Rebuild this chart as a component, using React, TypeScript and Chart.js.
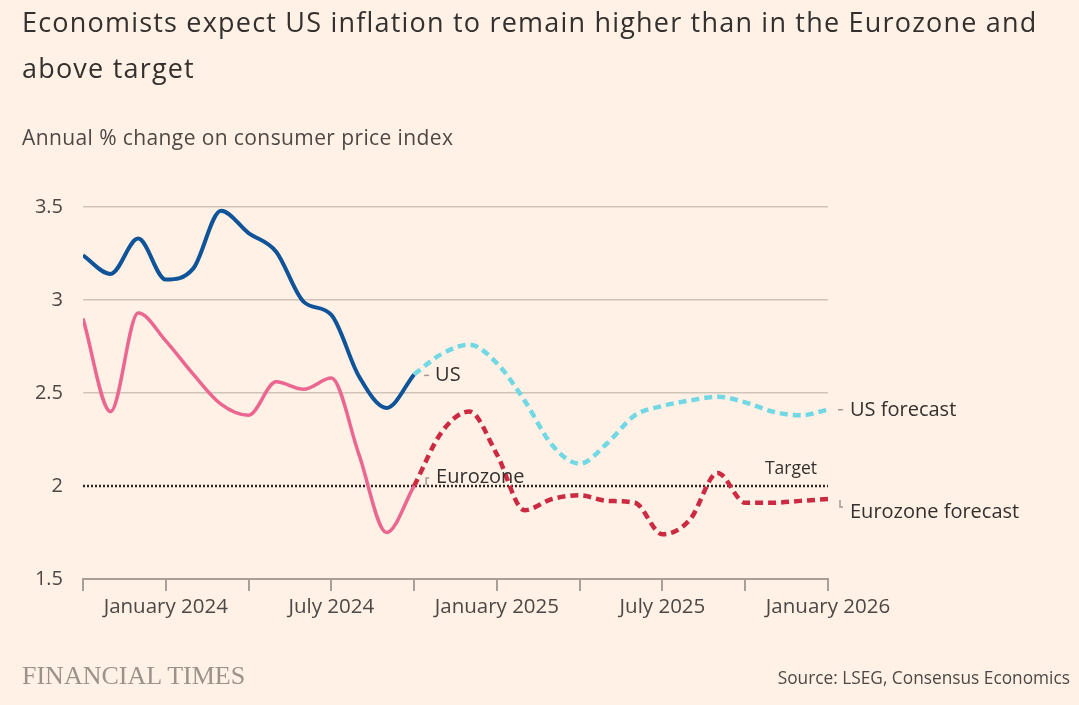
import React, { useEffect, useRef } from "react";
import { Chart, registerables } from "chart.js";

Chart.register(...registerables);

// Months from Oct 2023 (index 0) to Jan 2026 (index 27)
const monthCount = 28;
const tickIndices = [3, 9, 15, 21, 27];
const tickLabels = ["January 2024", "July 2024", "January 2025", "July 2025", "January 2026"];

// Actual data, Oct 2023 .. Oct 2024
const usActual = [3.24, 3.14, 3.33, 3.11, 3.17, 3.48, 3.36, 3.26, 2.99, 2.92, 2.59, 2.42, 2.6];
const euroActual = [2.9, 2.4, 2.93, 2.78, 2.6, 2.44, 2.38, 2.56, 2.52, 2.58, 2.17, 1.75, 2.0];

// Forecasts, Oct 2024 .. Jan 2026
const forecastStart = 12;
const usForecast = [2.6, 2.71, 2.76, 2.66, 2.46, 2.22, 2.12, 2.23, 2.38, 2.43, 2.46, 2.48, 2.45, 2.4, 2.38, 2.41];
const euroForecast = [2.0, 2.29, 2.4, 2.17, 1.87, 1.93, 1.95, 1.92, 1.91, 1.74, 1.82, 2.07, 1.91, 1.91, 1.92, 1.93];

const targetValue = 2;

const FONT = '"Open Sans", sans-serif';
const TEXT = "#33302e";
const MUTED = "#4d4845";
const LEADER = "#a39a92";

const toPoints = (arr: number[], start: number) => arr.map((v, i) => ({ x: start + i, y: v }));

const labelsPlugin = {
  id: "ftLabels",
  afterDatasetsDraw(chart: any) {
    const { ctx } = chart;
    const x = chart.scales.x;
    const y = chart.scales.y;
    ctx.save();
    ctx.fillStyle = TEXT;
    ctx.textBaseline = "middle";
    ctx.font = `20px ${FONT}`;
    ctx.textAlign = "left";

    // US label
    const usX = x.getPixelForValue(forecastStart);
    const usY = y.getPixelForValue(usActual[usActual.length - 1]);
    ctx.strokeStyle = LEADER;
    ctx.lineWidth = 1.5;
    ctx.beginPath();
    ctx.moveTo(usX + 10, usY + 1);
    ctx.lineTo(usX + 15, usY + 1);
    ctx.stroke();
    ctx.fillText("US", usX + 21, usY + 1);

    // Eurozone label
    const ezX = x.getPixelForValue(forecastStart);
    const ezY = y.getPixelForValue(targetValue);
    ctx.beginPath();
    ctx.moveTo(ezX + 12, ezY - 1);
    ctx.lineTo(ezX + 12, ezY - 8);
    ctx.lineTo(ezX + 15, ezY - 8);
    ctx.stroke();
    ctx.fillText("Eurozone", ezX + 22, ezY - 9);

    // US forecast label
    const endX = x.getPixelForValue(monthCount - 1);
    const usfY = y.getPixelForValue(usForecast[usForecast.length - 1]);
    ctx.beginPath();
    ctx.moveTo(endX + 10, usfY);
    ctx.lineTo(endX + 15, usfY);
    ctx.stroke();
    ctx.fillText("US forecast", endX + 22, usfY + 1);

    // Eurozone forecast label
    const ezfY = y.getPixelForValue(euroForecast[euroForecast.length - 1]);
    ctx.beginPath();
    ctx.moveTo(endX + 12, ezfY + 1);
    ctx.lineTo(endX + 12, ezfY + 8);
    ctx.lineTo(endX + 15, ezfY + 8);
    ctx.stroke();
    ctx.fillText("Eurozone forecast", endX + 22, ezfY + 13);

    // Target label
    ctx.font = `17.5px ${FONT}`;
    ctx.textAlign = "right";
    ctx.fillText("Target", endX - 11, ezY - 17);
    ctx.restore();
  },
};

function ChartCanvas() {
  const ref = useRef<HTMLCanvasElement | null>(null);
  useEffect(() => {
    if (!ref.current) return;
    const chart = new Chart(ref.current, {
      type: "line",
      data: {
        datasets: [
          {
            label: "Target",
            data: [
              { x: 0, y: targetValue },
              { x: monthCount - 1, y: targetValue },
            ],
            borderColor: "#2b2724",
            borderWidth: 2.5,
            borderDash: [2, 2],
            pointRadius: 0,
            order: 5,
          },
          {
            label: "Eurozone",
            data: toPoints(euroActual, 0),
            borderColor: "#eb6690",
            borderWidth: 3.5,
            pointRadius: 0,
            cubicInterpolationMode: "monotone",
            order: 4,
          },
          {
            label: "US",
            data: toPoints(usActual, 0),
            borderColor: "#0f5499",
            borderWidth: 4,
            pointRadius: 0,
            cubicInterpolationMode: "monotone",
            order: 3,
          },
          {
            label: "Eurozone forecast",
            data: toPoints(euroForecast, forecastStart),
            borderColor: "#cc2a42",
            borderWidth: 4.5,
            borderDash: [8, 5],
            pointRadius: 0,
            cubicInterpolationMode: "monotone",
            order: 2,
          },
          {
            label: "US forecast",
            data: toPoints(usForecast, forecastStart),
            borderColor: "#72d8e4",
            borderWidth: 4.5,
            borderDash: [8, 5],
            pointRadius: 0,
            cubicInterpolationMode: "monotone",
            order: 1,
          },
        ],
      },
      options: {
        responsive: false,
        animation: false,
        devicePixelRatio: 1,
        layout: { padding: { top: 207, right: 251, bottom: 76, left: 0 } },
        plugins: {
          legend: { display: false },
          tooltip: { enabled: false },
        },
        scales: {
          x: {
            type: "linear",
            min: 0,
            max: monthCount - 1,
            afterFit: (s: any) => {
              s.height = 50;
            },
            ticks: {
              stepSize: 3,
              autoSkip: false,
              maxRotation: 0,
              minRotation: 0,
              padding: 4,
              color: MUTED,
              font: { family: FONT, size: 20.5 },
              callback: (v: any) => {
                const i = tickIndices.indexOf(Number(v));
                return i >= 0 ? tickLabels[i] : "";
              },
            },
            grid: {
              drawOnChartArea: false,
              drawTicks: true,
              tickLength: 12,
              color: "#a8a098",
              lineWidth: 2,
            },
            border: { display: true, color: "#a8a098", width: 2 },
          },
          y: {
            min: 1.5,
            max: 3.5,
            afterFit: (s: any) => {
              s.width = 83;
            },
            ticks: {
              stepSize: 0.5,
              padding: 20,
              color: MUTED,
              font: { family: FONT, size: 20 },
              callback: (v: any) => String(Number(v)),
            },
            grid: {
              drawTicks: false,
              lineWidth: 1.5,
              color: (c: any) =>
                c.tick && (c.tick.value === 2 || c.tick.value === 1.5) ? "rgba(0,0,0,0)" : "#cfc4b9",
            },
            border: { display: false },
          },
        },
      },
      plugins: [labelsPlugin],
    } as any);
    return () => chart.destroy();
  }, []);
  return (
    <canvas
      ref={ref}
      width={1079}
      height={705}
      style={{ position: "absolute", left: 0, top: 0, width: 1079, height: 705 }}
    />
  );
}

export default function App() {
  useEffect(() => {
    document.body.style.margin = "0";
    document.body.style.background = "#fff1e5";
  }, []);
  return (
    <div
      style={{
        position: "absolute",
        left: 0,
        top: 0,
        width: 1079,
        height: 705,
        background: "#fff1e5",
        overflow: "hidden",
        fontFamily: FONT,
      }}
    >
      <ChartCanvas />
      <div
        style={{
          position: "absolute",
          left: 22,
          top: -1,
          fontSize: 27,
          letterSpacing: "1.2px",
          lineHeight: "46px",
          color: TEXT,
          whiteSpace: "nowrap",
        }}
      >
        Economists expect US inflation to remain higher than in the Eurozone and
        <br />
        above target
      </div>
      <div
        style={{
          position: "absolute",
          left: 22,
          top: 127,
          fontSize: 21,
          letterSpacing: "0.4px",
          lineHeight: "21px",
          color: MUTED,
          whiteSpace: "nowrap",
        }}
      >
        Annual % change on consumer price index
      </div>
      <div
        style={{
          position: "absolute",
          left: 22,
          top: 660,
          fontFamily: '"Liberation Serif", serif',
          fontSize: 26,
          lineHeight: "32px",
          color: "#9b928a",
          whiteSpace: "nowrap",
        }}
      >
        FINANCIAL TIMES
      </div>
      <div
        style={{
          position: "absolute",
          right: 9,
          top: 666,
          fontSize: 17.3,
          lineHeight: "24px",
          color: MUTED,
          whiteSpace: "nowrap",
        }}
      >
        Source: LSEG, Consensus Economics
      </div>
    </div>
  );
}
